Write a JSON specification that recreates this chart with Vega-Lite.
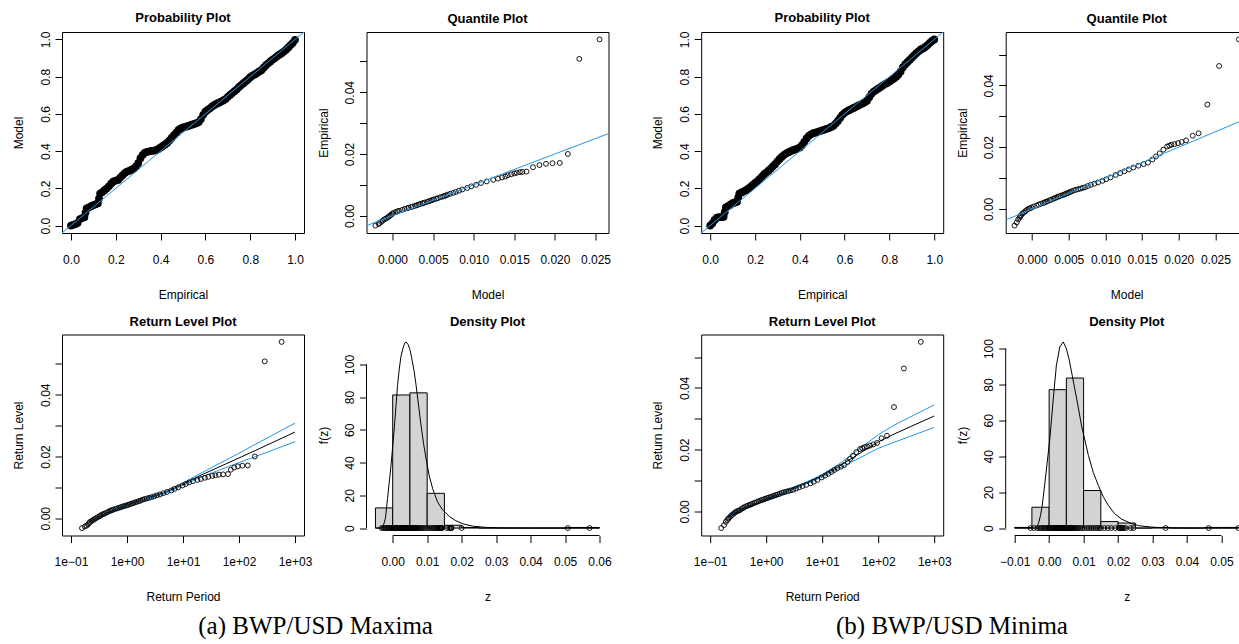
{
  "$schema": "https://vega.github.io/schema/vega-lite/v6.json",
  "background": "white",
  "padding": {"left": 12, "top": 11, "right": 0, "bottom": 0},
  "spacing": 39.2,
  "datasets": {
    "probA": [
      {"e":0,"m":0},{"e":0.01,"m":0.004},{"e":0.02,"m":0.008},{"e":0.03,"m":0.015},{"e":0.04,"m":0.035},{"e":0.05,"m":0.04},{"e":0.06,"m":0.045},{"e":0.065,"m":0.07},{"e":0.07,"m":0.092},{"e":0.08,"m":0.098},{"e":0.09,"m":0.104},{"e":0.1,"m":0.11},{"e":0.11,"m":0.114},{"e":0.12,"m":0.12},{"e":0.125,"m":0.145},{"e":0.13,"m":0.172},{"e":0.14,"m":0.18},{"e":0.15,"m":0.19},{"e":0.16,"m":0.2},{"e":0.17,"m":0.212},{"e":0.18,"m":0.226},{"e":0.19,"m":0.238},{"e":0.2,"m":0.242},{"e":0.21,"m":0.245},{"e":0.22,"m":0.258},{"e":0.23,"m":0.27},{"e":0.24,"m":0.282},{"e":0.25,"m":0.29},{"e":0.26,"m":0.294},{"e":0.27,"m":0.3},{"e":0.28,"m":0.306},{"e":0.29,"m":0.318},{"e":0.3,"m":0.335},{"e":0.31,"m":0.362},{"e":0.32,"m":0.38},{"e":0.33,"m":0.392},{"e":0.34,"m":0.396},{"e":0.35,"m":0.399},{"e":0.36,"m":0.401},{"e":0.37,"m":0.403},{"e":0.38,"m":0.405},{"e":0.39,"m":0.412},{"e":0.4,"m":0.42},{"e":0.41,"m":0.428},{"e":0.42,"m":0.436},{"e":0.43,"m":0.445},{"e":0.44,"m":0.458},{"e":0.45,"m":0.472},{"e":0.46,"m":0.486},{"e":0.47,"m":0.5},{"e":0.48,"m":0.514},{"e":0.49,"m":0.522},{"e":0.5,"m":0.527},{"e":0.51,"m":0.53},{"e":0.52,"m":0.534},{"e":0.53,"m":0.538},{"e":0.54,"m":0.542},{"e":0.55,"m":0.546},{"e":0.56,"m":0.55},{"e":0.57,"m":0.556},{"e":0.58,"m":0.572},{"e":0.59,"m":0.595},{"e":0.6,"m":0.612},{"e":0.61,"m":0.622},{"e":0.62,"m":0.63},{"e":0.63,"m":0.64},{"e":0.64,"m":0.648},{"e":0.65,"m":0.655},{"e":0.66,"m":0.66},{"e":0.67,"m":0.666},{"e":0.68,"m":0.672},{"e":0.69,"m":0.68},{"e":0.7,"m":0.692},{"e":0.71,"m":0.702},{"e":0.72,"m":0.712},{"e":0.73,"m":0.722},{"e":0.74,"m":0.732},{"e":0.75,"m":0.745},{"e":0.76,"m":0.755},{"e":0.77,"m":0.765},{"e":0.78,"m":0.775},{"e":0.79,"m":0.785},{"e":0.8,"m":0.797},{"e":0.81,"m":0.805},{"e":0.82,"m":0.812},{"e":0.83,"m":0.82},{"e":0.84,"m":0.828},{"e":0.85,"m":0.835},{"e":0.86,"m":0.848},{"e":0.87,"m":0.862},{"e":0.88,"m":0.872},{"e":0.89,"m":0.882},{"e":0.9,"m":0.892},{"e":0.91,"m":0.9},{"e":0.92,"m":0.91},{"e":0.93,"m":0.918},{"e":0.94,"m":0.926},{"e":0.95,"m":0.935},{"e":0.96,"m":0.945},{"e":0.97,"m":0.957},{"e":0.98,"m":0.97},{"e":0.99,"m":0.982},{"e":1,"m":0.998}
    ],
    "probB": [
      {"e":0,"m":0},{"e":0.01,"m":0.012},{"e":0.02,"m":0.03},{"e":0.03,"m":0.042},{"e":0.04,"m":0.045},{"e":0.05,"m":0.045},{"e":0.06,"m":0.047},{"e":0.065,"m":0.072},{"e":0.07,"m":0.098},{"e":0.08,"m":0.104},{"e":0.09,"m":0.112},{"e":0.1,"m":0.12},{"e":0.11,"m":0.124},{"e":0.12,"m":0.128},{"e":0.125,"m":0.15},{"e":0.13,"m":0.172},{"e":0.14,"m":0.178},{"e":0.15,"m":0.184},{"e":0.16,"m":0.19},{"e":0.17,"m":0.198},{"e":0.18,"m":0.208},{"e":0.19,"m":0.218},{"e":0.2,"m":0.228},{"e":0.21,"m":0.238},{"e":0.22,"m":0.25},{"e":0.23,"m":0.262},{"e":0.24,"m":0.275},{"e":0.25,"m":0.285},{"e":0.26,"m":0.295},{"e":0.27,"m":0.306},{"e":0.28,"m":0.318},{"e":0.29,"m":0.33},{"e":0.3,"m":0.345},{"e":0.31,"m":0.358},{"e":0.32,"m":0.37},{"e":0.33,"m":0.38},{"e":0.34,"m":0.388},{"e":0.35,"m":0.394},{"e":0.36,"m":0.4},{"e":0.37,"m":0.405},{"e":0.38,"m":0.41},{"e":0.39,"m":0.414},{"e":0.4,"m":0.42},{"e":0.41,"m":0.432},{"e":0.42,"m":0.45},{"e":0.43,"m":0.468},{"e":0.44,"m":0.482},{"e":0.45,"m":0.49},{"e":0.46,"m":0.496},{"e":0.47,"m":0.5},{"e":0.48,"m":0.504},{"e":0.49,"m":0.508},{"e":0.5,"m":0.512},{"e":0.51,"m":0.516},{"e":0.52,"m":0.52},{"e":0.53,"m":0.524},{"e":0.54,"m":0.53},{"e":0.55,"m":0.536},{"e":0.56,"m":0.548},{"e":0.57,"m":0.562},{"e":0.58,"m":0.578},{"e":0.59,"m":0.595},{"e":0.6,"m":0.606},{"e":0.61,"m":0.614},{"e":0.62,"m":0.62},{"e":0.63,"m":0.626},{"e":0.64,"m":0.632},{"e":0.65,"m":0.638},{"e":0.66,"m":0.644},{"e":0.67,"m":0.65},{"e":0.68,"m":0.656},{"e":0.69,"m":0.662},{"e":0.7,"m":0.67},{"e":0.71,"m":0.69},{"e":0.72,"m":0.708},{"e":0.73,"m":0.72},{"e":0.74,"m":0.728},{"e":0.75,"m":0.736},{"e":0.76,"m":0.744},{"e":0.77,"m":0.752},{"e":0.78,"m":0.76},{"e":0.79,"m":0.766},{"e":0.8,"m":0.774},{"e":0.81,"m":0.782},{"e":0.82,"m":0.79},{"e":0.83,"m":0.8},{"e":0.84,"m":0.812},{"e":0.85,"m":0.828},{"e":0.86,"m":0.85},{"e":0.87,"m":0.866},{"e":0.88,"m":0.878},{"e":0.89,"m":0.89},{"e":0.9,"m":0.902},{"e":0.91,"m":0.914},{"e":0.92,"m":0.926},{"e":0.93,"m":0.936},{"e":0.94,"m":0.946},{"e":0.95,"m":0.952},{"e":0.96,"m":0.96},{"e":0.97,"m":0.97},{"e":0.98,"m":0.982},{"e":0.99,"m":0.992},{"e":1,"m":1}
    ],
    "obsA": [
      {"t":0.1573,"z":-0.0032,"q":-0.0021},{"t":0.1766,"z":-0.0027,"q":-0.0017},{"t":0.1902,"z":-0.0024,"q":-0.0016},{"t":0.2012,"z":-0.002,"q":-0.0014},{"t":0.2107,"z":-0.0016,"q":-0.0012},{"t":0.2191,"z":-0.0012,"q":-0.001},{"t":0.2338,"z":-0.0009,"q":-0.0008},{"t":0.2467,"z":-0.0006,"q":-0.0006},{"t":0.2638,"z":-0.0003,"q":-0.0005},{"t":0.2791,"z":0,"q":-0.0003},{"t":0.2976,"z":0.0003,"q":-0.0002},{"t":0.3188,"z":0.0006,"q":0},{"t":0.3384,"z":0.0009,"q":0.0001},{"t":0.3607,"z":0.0012,"q":0.0004},{"t":0.3854,"z":0.0014,"q":0.0006},{"t":0.4091,"z":0.0016,"q":0.0008},{"t":0.4421,"z":0.0019,"q":0.0012},{"t":0.4745,"z":0.0022,"q":0.0015},{"t":0.5066,"z":0.0024,"q":0.0018},{"t":0.5387,"z":0.0026,"q":0.002},{"t":0.5711,"z":0.0028,"q":0.0023},{"t":0.6207,"z":0.003,"q":0.0025},{"t":0.6718,"z":0.0032,"q":0.0028},{"t":0.725,"z":0.0034,"q":0.003},{"t":0.7807,"z":0.0036,"q":0.0032},{"t":0.8394,"z":0.0038,"q":0.0034},{"t":0.9016,"z":0.004,"q":0.0037},{"t":0.968,"z":0.0041,"q":0.0038},{"t":1.039,"z":0.0043,"q":0.004},{"t":1.115,"z":0.0045,"q":0.0043},{"t":1.198,"z":0.0047,"q":0.0045},{"t":1.288,"z":0.0049,"q":0.0047},{"t":1.386,"z":0.0051,"q":0.0049},{"t":1.495,"z":0.0053,"q":0.0051},{"t":1.614,"z":0.0055,"q":0.0054},{"t":1.747,"z":0.0057,"q":0.0056},{"t":1.897,"z":0.006,"q":0.0059},{"t":2.066,"z":0.0062,"q":0.0062},{"t":2.259,"z":0.0064,"q":0.0064},{"t":2.482,"z":0.0066,"q":0.0066},{"t":2.743,"z":0.0068,"q":0.0068},{"t":3.051,"z":0.0071,"q":0.0071},{"t":3.421,"z":0.0074,"q":0.0075},{"t":3.876,"z":0.0077,"q":0.0078},{"t":4.446,"z":0.0081,"q":0.0082},{"t":5.187,"z":0.0085,"q":0.0086},{"t":6.184,"z":0.009,"q":0.0092},{"t":7.067,"z":0.0095,"q":0.0097},{"t":8.217,"z":0.01,"q":0.0103},{"t":9.775,"z":0.0106,"q":0.0109},{"t":11.25,"z":0.0111,"q":0.0116},{"t":12.89,"z":0.0116,"q":0.0124},{"t":15.06,"z":0.012,"q":0.013},{"t":18.08,"z":0.0124,"q":0.0135},{"t":20.83,"z":0.0127,"q":0.0139},{"t":24.57,"z":0.0131,"q":0.0142},{"t":28.33,"z":0.0134,"q":0.0146},{"t":33.33,"z":0.0137,"q":0.015},{"t":37.88,"z":0.0139,"q":0.0153},{"t":43.8,"z":0.0141,"q":0.0157},{"t":51.9,"z":0.0142,"q":0.016},{"t":63.5,"z":0.0143,"q":0.0165},{"t":71.5,"z":0.0157,"q":0.0173},{"t":81.8,"z":0.0164,"q":0.0181},{"t":95.5,"z":0.0168,"q":0.0189},{"t":114.7,"z":0.017,"q":0.0197},{"t":143.5,"z":0.0171,"q":0.0206},{"t":191.5,"z":0.02,"q":0.0216},{"t":287.5,"z":0.0508,"q":0.023},{"t":575.5,"z":0.0571,"q":0.0255}
    ],
    "obsB": [
      {"t":0.1573,"z":-0.0054,"q":-0.0024},{"t":0.1766,"z":-0.0044,"q":-0.0021},{"t":0.1902,"z":-0.0034,"q":-0.0019},{"t":0.2012,"z":-0.0028,"q":-0.0017},{"t":0.2107,"z":-0.0024,"q":-0.0016},{"t":0.2191,"z":-0.002,"q":-0.0015},{"t":0.2338,"z":-0.0015,"q":-0.0013},{"t":0.2467,"z":-0.0011,"q":-0.0011},{"t":0.2638,"z":-0.0007,"q":-0.0009},{"t":0.2791,"z":-0.0003,"q":-0.0007},{"t":0.2976,"z":0,"q":-0.0005},{"t":0.3188,"z":0.0002,"q":-0.0003},{"t":0.3384,"z":0.0004,"q":-0.0001},{"t":0.3607,"z":0.0008,"q":0.0002},{"t":0.3854,"z":0.0011,"q":0.0006},{"t":0.4091,"z":0.0014,"q":0.0009},{"t":0.4421,"z":0.0017,"q":0.0012},{"t":0.4745,"z":0.0019,"q":0.0015},{"t":0.5066,"z":0.0021,"q":0.0017},{"t":0.5387,"z":0.0023,"q":0.0019},{"t":0.5711,"z":0.0025,"q":0.0021},{"t":0.6207,"z":0.0028,"q":0.0024},{"t":0.6718,"z":0.003,"q":0.0026},{"t":0.725,"z":0.0033,"q":0.0029},{"t":0.7807,"z":0.0035,"q":0.0031},{"t":0.8394,"z":0.0037,"q":0.0033},{"t":0.9016,"z":0.0039,"q":0.0035},{"t":0.968,"z":0.0041,"q":0.0037},{"t":1.039,"z":0.0043,"q":0.0039},{"t":1.115,"z":0.0045,"q":0.0042},{"t":1.198,"z":0.0047,"q":0.0044},{"t":1.288,"z":0.0049,"q":0.0046},{"t":1.386,"z":0.0051,"q":0.0048},{"t":1.495,"z":0.0053,"q":0.005},{"t":1.614,"z":0.0055,"q":0.0052},{"t":1.747,"z":0.0057,"q":0.0054},{"t":1.897,"z":0.006,"q":0.0057},{"t":2.066,"z":0.0062,"q":0.006},{"t":2.259,"z":0.0064,"q":0.0063},{"t":2.482,"z":0.0066,"q":0.0066},{"t":2.743,"z":0.0068,"q":0.0069},{"t":3.051,"z":0.007,"q":0.0072},{"t":3.421,"z":0.0074,"q":0.0076},{"t":3.876,"z":0.0078,"q":0.008},{"t":4.446,"z":0.0082,"q":0.0085},{"t":5.187,"z":0.0086,"q":0.009},{"t":6.184,"z":0.0091,"q":0.0096},{"t":7.067,"z":0.0096,"q":0.0101},{"t":8.217,"z":0.0102,"q":0.0107},{"t":9.775,"z":0.011,"q":0.0114},{"t":11.25,"z":0.0116,"q":0.012},{"t":12.89,"z":0.0122,"q":0.0126},{"t":14.65,"z":0.0128,"q":0.0132},{"t":16.44,"z":0.0134,"q":0.0138},{"t":18.69,"z":0.014,"q":0.0145},{"t":21.65,"z":0.0145,"q":0.0152},{"t":24.57,"z":0.015,"q":0.0158},{"t":28.33,"z":0.016,"q":0.0164},{"t":31.5,"z":0.017,"q":0.0169},{"t":35.5,"z":0.018,"q":0.0174},{"t":40.64,"z":0.0192,"q":0.0179},{"t":47.5,"z":0.0202,"q":0.0184},{"t":51.9,"z":0.0205,"q":0.0187},{"t":57.1,"z":0.0208,"q":0.019},{"t":63.5,"z":0.021,"q":0.0194},{"t":71.5,"z":0.0213,"q":0.0199},{"t":81.8,"z":0.0217,"q":0.0204},{"t":95.5,"z":0.0222,"q":0.021},{"t":114.7,"z":0.0237,"q":0.0219},{"t":143.5,"z":0.0245,"q":0.0227},{"t":191.5,"z":0.0338,"q":0.0239},{"t":287.5,"z":0.0463,"q":0.0255},{"t":575.5,"z":0.0549,"q":0.0282}
    ],
    "rlA": [
      {"t":0.217,"f":-0.0011,"u":-0.0009,"l":-0.0013},{"t":0.4343,"f":0.0017,"u":0.0019,"l":0.0015},{"t":1.0913,"f":0.0045,"u":0.0047,"l":0.0043},{"t":1.9576,"f":0.0061,"u":0.0063,"l":0.0059},{"t":4.4814,"f":0.0081,"u":0.0084,"l":0.0078},{"t":9.4912,"f":0.0108,"u":0.0112,"l":0.0104},{"t":19.496,"f":0.0137,"u":0.0143,"l":0.0131},{"t":99.5,"f":0.0195,"u":0.021,"l":0.018},{"t":199.5,"f":0.022,"u":0.024,"l":0.02},{"t":999.5,"f":0.0279,"u":0.0308,"l":0.0248}
    ],
    "rlB": [
      {"t":0.217,"f":-0.0015,"u":-0.0012,"l":-0.0018},{"t":0.4343,"f":0.0012,"u":0.0014,"l":0.001},{"t":1.0913,"f":0.0042,"u":0.0044,"l":0.004},{"t":1.9576,"f":0.0059,"u":0.0061,"l":0.0057},{"t":4.4814,"f":0.0087,"u":0.009,"l":0.0084},{"t":9.4912,"f":0.0113,"u":0.0117,"l":0.0109},{"t":19.496,"f":0.0145,"u":0.0152,"l":0.0138},{"t":99.5,"f":0.0225,"u":0.0248,"l":0.0204},{"t":199.5,"f":0.0252,"u":0.0281,"l":0.0225},{"t":999.5,"f":0.0309,"u":0.0345,"l":0.0272}
    ],
    "histA": [
      {"a":-0.005,"b":0,"h":12.3},{"a":0,"b":0.005,"h":81.3},{"a":0.005,"b":0.01,"h":82.6},{"a":0.01,"b":0.015,"h":21.2},{"a":0.015,"b":0.02,"h":1.7},{"a":0.02,"b":0.025,"h":0.35},{"a":0.025,"b":0.03,"h":0},{"a":0.03,"b":0.035,"h":0},{"a":0.035,"b":0.04,"h":0},{"a":0.04,"b":0.045,"h":0},{"a":0.045,"b":0.05,"h":0},{"a":0.05,"b":0.055,"h":0.35},{"a":0.055,"b":0.06,"h":0.35}
    ],
    "histB": [
      {"a":-0.01,"b":-0.005,"h":0.35},{"a":-0.005,"b":0,"h":11.6},{"a":0,"b":0.005,"h":77.1},{"a":0.005,"b":0.01,"h":83.6},{"a":0.01,"b":0.015,"h":20.9},{"a":0.015,"b":0.02,"h":3.6},{"a":0.02,"b":0.025,"h":2.8},{"a":0.025,"b":0.03,"h":0},{"a":0.03,"b":0.035,"h":0.35},{"a":0.035,"b":0.04,"h":0},{"a":0.04,"b":0.045,"h":0},{"a":0.045,"b":0.05,"h":0.35},{"a":0.05,"b":0.055,"h":0.35}
    ],
    "densA": [
      {"x":-0.005,"y":0},{"x":-0.0035,"y":0},{"x":-0.0029,"y":0.5},{"x":-0.0025,"y":3},{"x":-0.0021,"y":6},{"x":-0.0015,"y":18},{"x":-0.001,"y":28},{"x":-0.0005,"y":38},{"x":0,"y":50},{"x":0.0005,"y":62},{"x":0.001,"y":76},{"x":0.0014,"y":87},{"x":0.0019,"y":97},{"x":0.0024,"y":105},{"x":0.003,"y":110},{"x":0.0035,"y":113},{"x":0.0039,"y":113.7},{"x":0.0045,"y":112},{"x":0.005,"y":109},{"x":0.0055,"y":104},{"x":0.0062,"y":96},{"x":0.0068,"y":87},{"x":0.0075,"y":75},{"x":0.0082,"y":63},{"x":0.009,"y":51},{"x":0.0097,"y":42},{"x":0.0106,"y":32},{"x":0.0116,"y":24},{"x":0.013,"y":16},{"x":0.0145,"y":11},{"x":0.0165,"y":7},{"x":0.0183,"y":4.5},{"x":0.0205,"y":2.5},{"x":0.0231,"y":1.2},{"x":0.027,"y":0.4},{"x":0.032,"y":0.1},{"x":0.04,"y":0.02},{"x":0.06,"y":0}
    ],
    "densB": [
      {"x":-0.01,"y":0},{"x":-0.0042,"y":0},{"x":-0.0035,"y":0.8},{"x":-0.003,"y":3.2},{"x":-0.0025,"y":7},{"x":-0.002,"y":12.5},{"x":-0.0011,"y":27.4},{"x":0.0002,"y":49.7},{"x":0.0012,"y":72},{"x":0.0021,"y":90.7},{"x":0.0031,"y":101},{"x":0.0041,"y":103.7},{"x":0.005,"y":100},{"x":0.0058,"y":94},{"x":0.0065,"y":87},{"x":0.008,"y":72},{"x":0.0094,"y":57},{"x":0.0114,"y":40.4},{"x":0.0128,"y":31},{"x":0.0143,"y":23.6},{"x":0.0157,"y":17.5},{"x":0.0172,"y":12.5},{"x":0.019,"y":8},{"x":0.021,"y":5},{"x":0.0235,"y":2.8},{"x":0.026,"y":1.3},{"x":0.031,"y":0.3},{"x":0.04,"y":0.05},{"x":0.055,"y":0}
    ]
  },
  "hconcat": [
    {
      "concat": [
        {
          "width": 242, "height": 201,
          "title": {"text": "Probability Plot"},
          "layer": [
            {"data": {"name": "probA"}, "mark": {"type": "point", "shape": "circle", "filled": true, "size": 60, "color": "black", "opacity": 1},
             "encoding": {
               "x": {"field": "e", "type": "quantitative", "scale": {"domain": [-0.04, 1.04], "nice": false, "zero": false}, "axis": {"values": [0, 0.2, 0.4, 0.6, 0.8, 1], "format": ".1f", "title": "Empirical"}},
               "y": {"field": "m", "type": "quantitative", "scale": {"domain": [-0.04, 1.04], "nice": false, "zero": false}, "axis": {"values": [0, 0.2, 0.4, 0.6, 0.8, 1], "format": ".1f", "title": "Model"}}
             }},
            {"data": {"values": [{}]}, "mark": {"type": "rule", "color": "#2297E6", "strokeWidth": 1},
             "encoding": {
               "x": {"datum": -0.04, "type": "quantitative", "scale": {"domain": [-0.04, 1.04], "nice": false, "zero": false}},
               "y": {"datum": -0.04, "type": "quantitative", "scale": {"domain": [-0.04, 1.04], "nice": false, "zero": false}},
               "x2": {"datum": 1.04}, "y2": {"datum": 1.04}
             }}
          ]
        },
        {
          "width": 242, "height": 201,
          "title": {"text": "Quantile Plot"},
          "layer": [
            {"data": {"name": "obsA"}, "mark": {"type": "point", "shape": "circle", "filled": false, "size": 24, "stroke": "black", "strokeWidth": 0.9, "opacity": 1},
             "encoding": {
               "x": {"field": "q", "type": "quantitative", "scale": {"domain": [-0.0032, 0.0266], "nice": false, "zero": false}, "axis": {"values": [0, 0.005, 0.01, 0.015, 0.02, 0.025], "format": ".3f", "title": "Model"}},
               "y": {"field": "z", "type": "quantitative", "scale": {"domain": [-0.0056, 0.0595], "nice": false, "zero": false}, "axis": {"values": [0, 0.01, 0.02, 0.03, 0.04, 0.05], "format": ".2f", "labelExpr": "(datum.label == '0.00' || datum.label == '0.02' || datum.label == '0.04') ? datum.label : ''", "title": "Empirical"}}
             }},
            {"data": {"values": [{}]}, "mark": {"type": "rule", "color": "#2297E6", "strokeWidth": 1},
             "encoding": {
               "x": {"datum": -0.0032, "type": "quantitative", "scale": {"domain": [-0.0032, 0.0266], "nice": false, "zero": false}},
               "y": {"datum": -0.0032, "type": "quantitative", "scale": {"domain": [-0.0056, 0.0595], "nice": false, "zero": false}},
               "x2": {"datum": 0.0266}, "y2": {"datum": 0.0266}
             }}
          ]
        },
        {
          "width": 242, "height": 201,
          "title": {"text": "Return Level Plot"},
          "layer": [
            {"data": {"name": "rlA"}, "mark": {"type": "line", "color": "black", "strokeWidth": 1},
             "encoding": {
               "x": {"field": "t", "type": "quantitative", "scale": {"type": "log", "domain": [0.0692, 1445]}, "axis": {"values": [0.1, 1, 10, 100, 1000], "labelExpr": "datum.value < 0.5 ? '1e\u221201' : datum.value < 5 ? '1e+00' : datum.value < 50 ? '1e+01' : datum.value < 500 ? '1e+02' : '1e+03'", "title": "Return Period"}},
               "y": {"field": "f", "type": "quantitative", "scale": {"domain": [-0.0056, 0.0595], "nice": false, "zero": false}, "axis": {"values": [0, 0.01, 0.02, 0.03, 0.04, 0.05], "format": ".2f", "labelExpr": "(datum.label == '0.00' || datum.label == '0.02' || datum.label == '0.04') ? datum.label : ''", "title": "Return Level"}}
             }},
            {"data": {"name": "rlA"}, "mark": {"type": "line", "color": "#2297E6", "strokeWidth": 1},
             "encoding": {
               "x": {"field": "t", "type": "quantitative", "scale": {"type": "log", "domain": [0.0692, 1445]}},
               "y": {"field": "u", "type": "quantitative", "scale": {"domain": [-0.0056, 0.0595], "nice": false, "zero": false}}
             }},
            {"data": {"name": "rlA"}, "mark": {"type": "line", "color": "#2297E6", "strokeWidth": 1},
             "encoding": {
               "x": {"field": "t", "type": "quantitative", "scale": {"type": "log", "domain": [0.0692, 1445]}},
               "y": {"field": "l", "type": "quantitative", "scale": {"domain": [-0.0056, 0.0595], "nice": false, "zero": false}}
             }},
            {"data": {"name": "obsA"}, "mark": {"type": "point", "shape": "circle", "filled": false, "size": 24, "stroke": "black", "strokeWidth": 0.9, "opacity": 1},
             "encoding": {
               "x": {"field": "t", "type": "quantitative", "scale": {"type": "log", "domain": [0.0692, 1445]}},
               "y": {"field": "z", "type": "quantitative", "scale": {"domain": [-0.0056, 0.0595], "nice": false, "zero": false}}
             }}
          ]
        },
        {
          "width": 242, "height": 201,
          "title": {"text": "Density Plot"},
          "view": {"stroke": null},
          "layer": [
            {"data": {"name": "histA"}, "mark": {"type": "rect", "fill": "#D3D3D3", "stroke": "black", "strokeWidth": 1},
             "encoding": {
               "x": {"field": "a", "type": "quantitative", "scale": {"domain": [-0.0076, 0.0626], "nice": false, "zero": false}, "axis": {"values": [0, 0.01, 0.02, 0.03, 0.04, 0.05, 0.06], "format": ".2f", "title": "z"}},
               "x2": {"field": "b"},
               "y": {"field": "h", "type": "quantitative", "scale": {"domain": [-4.55, 118.25], "nice": false, "zero": false}, "axis": {"values": [0, 20, 40, 60, 80, 100], "format": "d", "title": "f(z)"}},
               "y2": {"datum": 0}
             }},
            {"data": {"name": "obsA"}, "mark": {"type": "point", "shape": "circle", "filled": false, "size": 24, "stroke": "black", "strokeWidth": 0.9, "opacity": 1},
             "encoding": {
               "x": {"field": "z", "type": "quantitative", "scale": {"domain": [-0.0076, 0.0626], "nice": false, "zero": false}},
               "y": {"datum": 0, "type": "quantitative", "scale": {"domain": [-4.55, 118.25], "nice": false, "zero": false}}
             }},
            {"data": {"name": "densA"}, "mark": {"type": "line", "color": "black", "strokeWidth": 1},
             "encoding": {
               "x": {"field": "x", "type": "quantitative", "scale": {"domain": [-0.0076, 0.0626], "nice": false, "zero": false}},
               "y": {"field": "y", "type": "quantitative", "scale": {"domain": [-4.55, 118.25], "nice": false, "zero": false}}
             }},
            {"data": {"values": [{}]}, "mark": {"type": "rule", "color": "black", "strokeWidth": 1},
             "encoding": {
               "x": {"datum": 0, "type": "quantitative", "scale": {"domain": [-0.0076, 0.0626], "nice": false, "zero": false}},
               "x2": {"datum": 0.06},
               "y": {"datum": -4.55, "type": "quantitative", "scale": {"domain": [-4.55, 118.25], "nice": false, "zero": false}}
             }},
            {"data": {"values": [{}]}, "mark": {"type": "rule", "color": "black", "strokeWidth": 1},
             "encoding": {
               "x": {"datum": -0.0076, "type": "quantitative", "scale": {"domain": [-0.0076, 0.0626], "nice": false, "zero": false}},
               "y": {"datum": 0, "type": "quantitative", "scale": {"domain": [-4.55, 118.25], "nice": false, "zero": false}},
               "y2": {"datum": 100}
             }}
          ]
        }
      ],
      "columns": 2,
      "spacing": {"column": 3.5, "row": 13.5},
      "title": {"text": "(a) BWP/USD Maxima", "orient": "bottom", "anchor": "middle", "frame": "bounds", "font": "Liberation Serif", "fontSize": 25, "fontWeight": "normal", "baseline": "alphabetic", "offset": 31, "dx": 4}
    },
    {
      "concat": [
        {
          "width": 242, "height": 201,
          "title": {"text": "Probability Plot"},
          "layer": [
            {"data": {"name": "probB"}, "mark": {"type": "point", "shape": "circle", "filled": true, "size": 60, "color": "black", "opacity": 1},
             "encoding": {
               "x": {"field": "e", "type": "quantitative", "scale": {"domain": [-0.04, 1.04], "nice": false, "zero": false}, "axis": {"values": [0, 0.2, 0.4, 0.6, 0.8, 1], "format": ".1f", "title": "Empirical"}},
               "y": {"field": "m", "type": "quantitative", "scale": {"domain": [-0.04, 1.04], "nice": false, "zero": false}, "axis": {"values": [0, 0.2, 0.4, 0.6, 0.8, 1], "format": ".1f", "title": "Model"}}
             }},
            {"data": {"values": [{}]}, "mark": {"type": "rule", "color": "#2297E6", "strokeWidth": 1},
             "encoding": {
               "x": {"datum": -0.04, "type": "quantitative", "scale": {"domain": [-0.04, 1.04], "nice": false, "zero": false}},
               "y": {"datum": -0.04, "type": "quantitative", "scale": {"domain": [-0.04, 1.04], "nice": false, "zero": false}},
               "x2": {"datum": 1.04}, "y2": {"datum": 1.04}
             }}
          ]
        },
        {
          "width": 242, "height": 201,
          "title": {"text": "Quantile Plot"},
          "layer": [
            {"data": {"name": "obsB"}, "mark": {"type": "point", "shape": "circle", "filled": false, "size": 24, "stroke": "black", "strokeWidth": 0.9, "opacity": 1},
             "encoding": {
               "x": {"field": "q", "type": "quantitative", "scale": {"domain": [-0.0036, 0.0294], "nice": false, "zero": false}, "axis": {"values": [0, 0.005, 0.01, 0.015, 0.02, 0.025], "format": ".3f", "title": "Model"}},
               "y": {"field": "z", "type": "quantitative", "scale": {"domain": [-0.0078, 0.0573], "nice": false, "zero": false}, "axis": {"values": [0, 0.01, 0.02, 0.03, 0.04, 0.05], "format": ".2f", "labelExpr": "(datum.label == '0.00' || datum.label == '0.02' || datum.label == '0.04') ? datum.label : ''", "title": "Empirical"}}
             }},
            {"data": {"values": [{}]}, "mark": {"type": "rule", "color": "#2297E6", "strokeWidth": 1},
             "encoding": {
               "x": {"datum": -0.0036, "type": "quantitative", "scale": {"domain": [-0.0036, 0.0294], "nice": false, "zero": false}},
               "y": {"datum": -0.0036, "type": "quantitative", "scale": {"domain": [-0.0078, 0.0573], "nice": false, "zero": false}},
               "x2": {"datum": 0.0294}, "y2": {"datum": 0.0294}
             }}
          ]
        },
        {
          "width": 242, "height": 201,
          "title": {"text": "Return Level Plot"},
          "layer": [
            {"data": {"name": "rlB"}, "mark": {"type": "line", "color": "black", "strokeWidth": 1},
             "encoding": {
               "x": {"field": "t", "type": "quantitative", "scale": {"type": "log", "domain": [0.0692, 1445]}, "axis": {"values": [0.1, 1, 10, 100, 1000], "labelExpr": "datum.value < 0.5 ? '1e\u221201' : datum.value < 5 ? '1e+00' : datum.value < 50 ? '1e+01' : datum.value < 500 ? '1e+02' : '1e+03'", "title": "Return Period"}},
               "y": {"field": "f", "type": "quantitative", "scale": {"domain": [-0.0078, 0.0573], "nice": false, "zero": false}, "axis": {"values": [0, 0.01, 0.02, 0.03, 0.04, 0.05], "format": ".2f", "labelExpr": "(datum.label == '0.00' || datum.label == '0.02' || datum.label == '0.04') ? datum.label : ''", "title": "Return Level"}}
             }},
            {"data": {"name": "rlB"}, "mark": {"type": "line", "color": "#2297E6", "strokeWidth": 1},
             "encoding": {
               "x": {"field": "t", "type": "quantitative", "scale": {"type": "log", "domain": [0.0692, 1445]}},
               "y": {"field": "u", "type": "quantitative", "scale": {"domain": [-0.0078, 0.0573], "nice": false, "zero": false}}
             }},
            {"data": {"name": "rlB"}, "mark": {"type": "line", "color": "#2297E6", "strokeWidth": 1},
             "encoding": {
               "x": {"field": "t", "type": "quantitative", "scale": {"type": "log", "domain": [0.0692, 1445]}},
               "y": {"field": "l", "type": "quantitative", "scale": {"domain": [-0.0078, 0.0573], "nice": false, "zero": false}}
             }},
            {"data": {"name": "obsB"}, "mark": {"type": "point", "shape": "circle", "filled": false, "size": 24, "stroke": "black", "strokeWidth": 0.9, "opacity": 1},
             "encoding": {
               "x": {"field": "t", "type": "quantitative", "scale": {"type": "log", "domain": [0.0692, 1445]}},
               "y": {"field": "z", "type": "quantitative", "scale": {"domain": [-0.0078, 0.0573], "nice": false, "zero": false}}
             }}
          ]
        },
        {
          "width": 242, "height": 201,
          "title": {"text": "Density Plot"},
          "view": {"stroke": null},
          "layer": [
            {"data": {"name": "histB"}, "mark": {"type": "rect", "fill": "#D3D3D3", "stroke": "black", "strokeWidth": 1},
             "encoding": {
               "x": {"field": "a", "type": "quantitative", "scale": {"domain": [-0.0126, 0.0576], "nice": false, "zero": false}, "axis": {"values": [-0.01, 0, 0.01, 0.02, 0.03, 0.04, 0.05], "format": ".2f", "title": "z"}},
               "x2": {"field": "b"},
               "y": {"field": "h", "type": "quantitative", "scale": {"domain": [-4.15, 107.85], "nice": false, "zero": false}, "axis": {"values": [0, 20, 40, 60, 80, 100], "format": "d", "title": "f(z)"}},
               "y2": {"datum": 0}
             }},
            {"data": {"name": "obsB"}, "mark": {"type": "point", "shape": "circle", "filled": false, "size": 24, "stroke": "black", "strokeWidth": 0.9, "opacity": 1},
             "encoding": {
               "x": {"field": "z", "type": "quantitative", "scale": {"domain": [-0.0126, 0.0576], "nice": false, "zero": false}},
               "y": {"datum": 0, "type": "quantitative", "scale": {"domain": [-4.15, 107.85], "nice": false, "zero": false}}
             }},
            {"data": {"name": "densB"}, "mark": {"type": "line", "color": "black", "strokeWidth": 1},
             "encoding": {
               "x": {"field": "x", "type": "quantitative", "scale": {"domain": [-0.0126, 0.0576], "nice": false, "zero": false}},
               "y": {"field": "y", "type": "quantitative", "scale": {"domain": [-4.15, 107.85], "nice": false, "zero": false}}
             }},
            {"data": {"values": [{}]}, "mark": {"type": "rule", "color": "black", "strokeWidth": 1},
             "encoding": {
               "x": {"datum": -0.01, "type": "quantitative", "scale": {"domain": [-0.0126, 0.0576], "nice": false, "zero": false}},
               "x2": {"datum": 0.05},
               "y": {"datum": -4.15, "type": "quantitative", "scale": {"domain": [-4.15, 107.85], "nice": false, "zero": false}}
             }},
            {"data": {"values": [{}]}, "mark": {"type": "rule", "color": "black", "strokeWidth": 1},
             "encoding": {
               "x": {"datum": -0.0126, "type": "quantitative", "scale": {"domain": [-0.0126, 0.0576], "nice": false, "zero": false}},
               "y": {"datum": 0, "type": "quantitative", "scale": {"domain": [-4.15, 107.85], "nice": false, "zero": false}},
               "y2": {"datum": 100}
             }}
          ]
        }
      ],
      "columns": 2,
      "spacing": {"column": 3.5, "row": 13.5},
      "title": {"text": "(b) BWP/USD Minima", "orient": "bottom", "anchor": "middle", "frame": "bounds", "font": "Liberation Serif", "fontSize": 25, "fontWeight": "normal", "baseline": "alphabetic", "offset": 31, "dx": 2}
    }
  ],
  "config": {
    "view": {"stroke": "black", "strokeWidth": 1},
    "axis": {"grid": false, "domain": false, "ticks": true, "tickColor": "black", "tickWidth": 1, "tickSize": 7, "labelColor": "black", "labelFont": "Liberation Sans", "labelFontSize": 12, "labelOverlap": false, "labelFlush": false, "titleFont": "Liberation Sans", "titleFontSize": 12, "titleFontWeight": "normal", "titleColor": "black"},
    "axisX": {"labelPadding": 14, "titleY": 65, "titleBaseline": "alphabetic"},
    "axisY": {"labelAngle": -90, "labelAlign": "center", "labelBaseline": "alphabetic", "labelPadding": 6, "titleAngle": -90, "titleX": -39.5, "titleBaseline": "alphabetic"},
    "title": {"font": "Liberation Sans", "fontSize": 13, "fontWeight": "bold", "color": "black", "frame": "group", "offset": 6, "baseline": "alphabetic"}
  }
}
